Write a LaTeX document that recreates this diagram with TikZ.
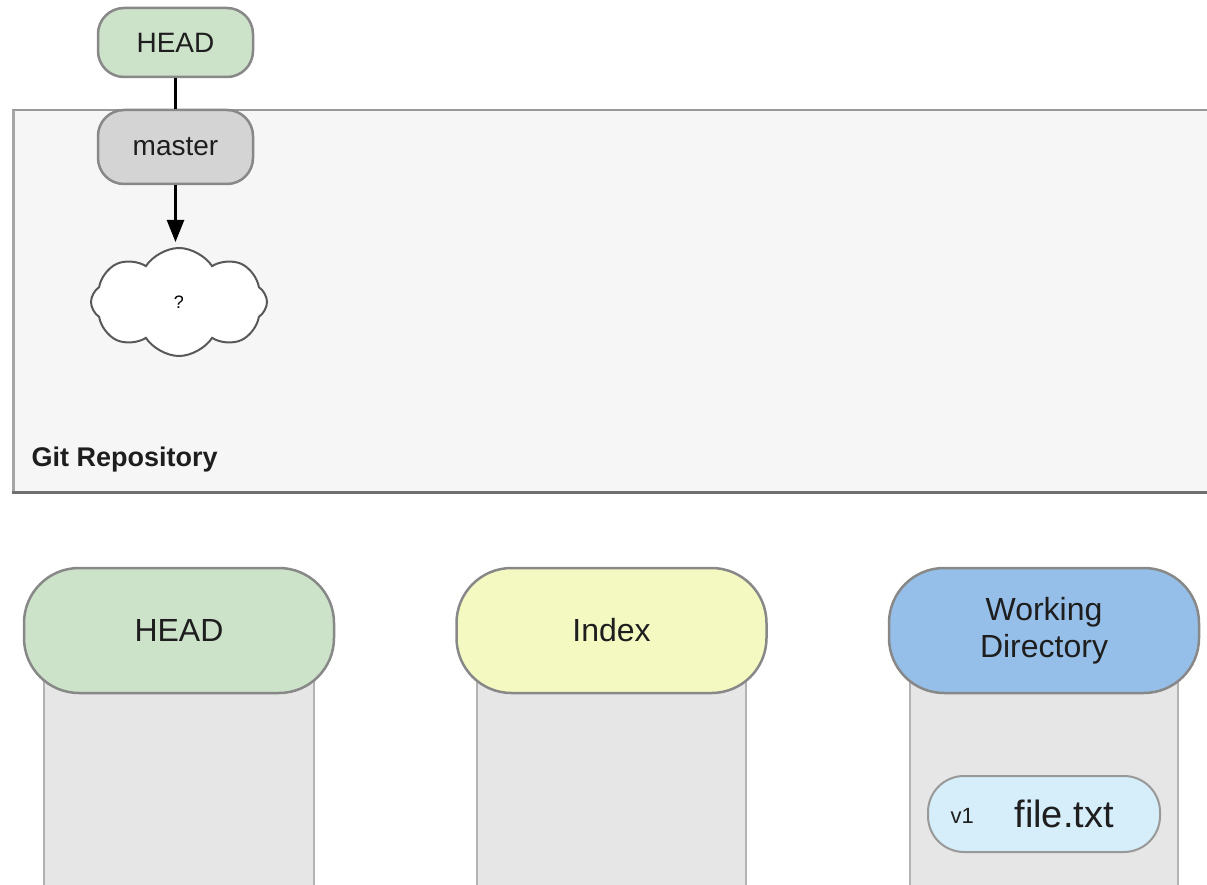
\documentclass[tikz,border=0pt]{standalone}
\usepackage{fontspec}
\setmainfont{Liberation Sans}
\usetikzlibrary{shapes.symbols,arrows.meta}

\definecolor{headgreen}{RGB}{204,227,201}
\definecolor{mastergray}{RGB}{212,212,212}
\definecolor{indexyellow}{RGB}{243,249,193}
\definecolor{wdblue}{RGB}{149,191,232}
\definecolor{fileblue}{RGB}{214,237,250}
\definecolor{repofill}{RGB}{246,246,246}
\definecolor{colfill}{RGB}{230,230,230}
\definecolor{edgegray}{RGB}{136,136,136}
\definecolor{inktext}{RGB}{30,30,30}

\newcommand{\fs}[1]{\fontsize{#1}{#1}\selectfont}

\tikzset{
  pill/.style={draw=edgegray, line width=2.5pt, inner sep=0pt, align=center,
               text=inktext},
  smallpill/.style={pill, minimum width=155pt, rounded corners=26pt, font=\fs{28}},
  bigpill/.style={pill, minimum width=310pt, minimum height=125pt,
                  rounded corners=55pt, font=\fs{32}},
  column/.style={draw=black!30, line width=2pt, fill=colfill, inner sep=0pt,
                 minimum width=270pt, minimum height=230pt, anchor=north},
  link/.style={line width=2.5pt, black},
}

\begin{document}
\begin{tikzpicture}[x=1pt, y=-1pt]
\useasboundingbox (0,0) rectangle (1207,885);

% repository panel, running off the right edge
\fill[repofill] (12,110) rectangle (1215,492);
\draw[black!40, line width=2.5pt] (12,110) -- (1215,110);
\draw[black!35, line width=3pt] (13,110) -- (13,492);
\draw[black!56, line width=3pt] (12,492) -- (1215,492);
\node[anchor=base west, font=\bfseries\fs{27}, text=inktext] (repo) at (28,466) {Git Repository};

% branch pointers and the unborn commit
\node[smallpill, fill=headgreen, minimum height=69pt] (head) at (175.5,42.5) {HEAD};
\node[smallpill, fill=mastergray, minimum height=74pt] (master) at (175.5,147) {master};
\node[cloud, cloud puffs=8, cloud puff arc=115, aspect=1.7, draw=black!65,
      line width=2pt, fill=white, minimum width=176pt, minimum height=108pt,
      inner sep=0pt, font=\fs{18}] (commit) at (179,302) {?};

\draw[link] (head.south) -- (master.north);
\draw[link, -{Triangle[length=22pt,width=17pt]}, shorten >=5pt]
  (master.south) -- (master.south |- commit.north);

% the three trees
\node[column] (headcol) at (179,680) {};
\node[column, minimum width=269pt] (indexcol) at (611.5,680) {};
\node[column, minimum width=268pt] (wdcol) at (1044,680) {};

\node[bigpill, fill=headgreen] (headtree) at (179,630.5) {HEAD};
\node[bigpill, fill=indexyellow] (indextree) at (611.5,630.5) {Index};
\node[bigpill, fill=wdblue, font=\fontsize{32}{37}\selectfont] (wdtree) at (1044,630.5)
  {Working\\Directory};

% file in the working directory
\node[pill, draw=black!40, line width=2pt, fill=fileblue, minimum width=232pt,
      minimum height=76pt, rounded corners=36pt] (file) at (1044,814) {};
\node[anchor=base west, font=\fs{22}, text=inktext] (ver) at (947,823) {v1};
\node[anchor=base west, font=\fs{38}, text=inktext] (fname) at (1011,827) {file.txt};
\end{tikzpicture}
\end{document}
